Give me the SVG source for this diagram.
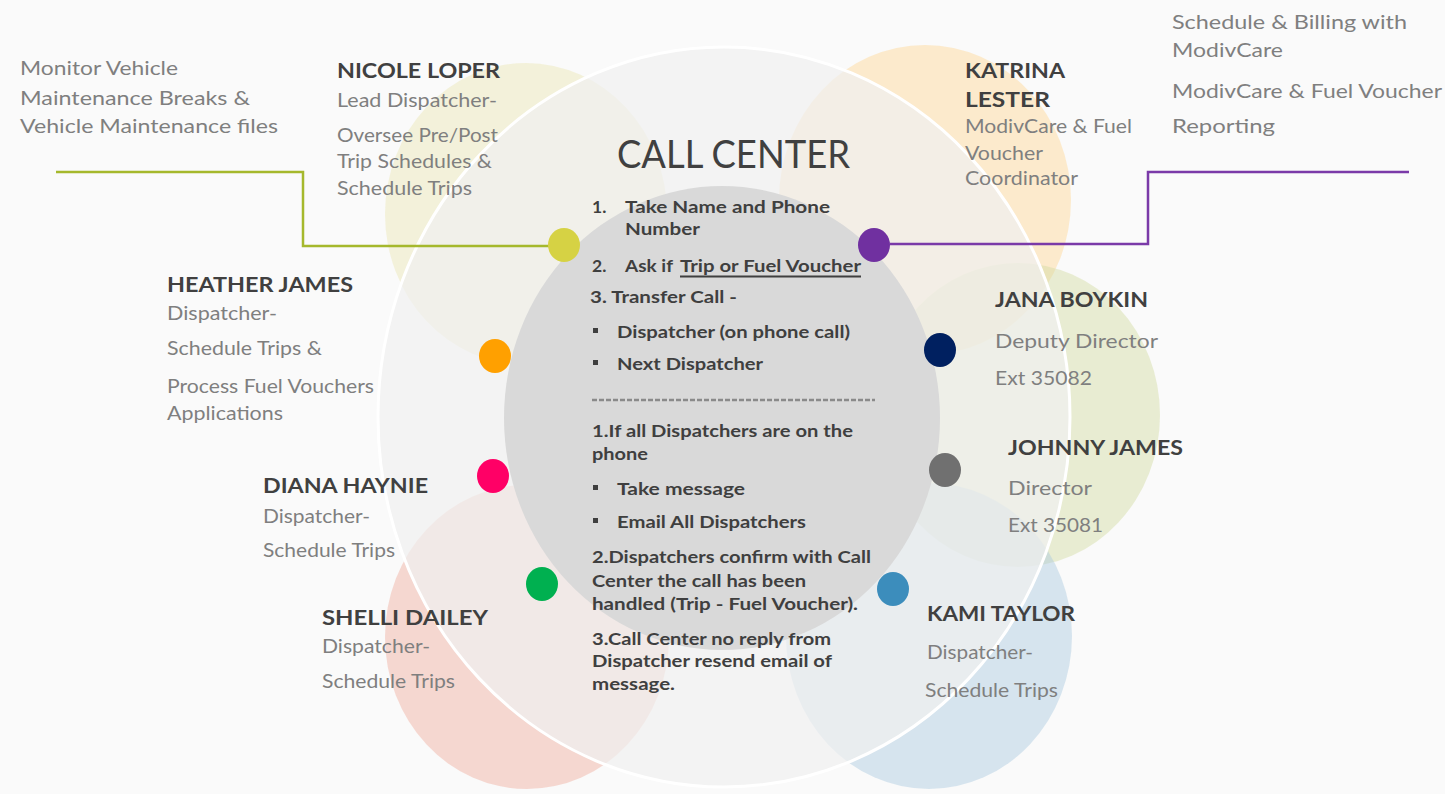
<svg xmlns="http://www.w3.org/2000/svg" width="1445" height="794" viewBox="0 0 1445 794">
  <style>
    text { font-family: Lato, "Open Sans", "Liberation Sans", sans-serif; }
    .name { font-size: 20px; font-weight: bold; fill: #404040; }
    .role { font-size: 19px; fill: #7f7f7f; }
    .note { font-size: 19px; fill: #7f7f7f; }
    .list { font-size: 17.5px; font-weight: bold; fill: #3f3f3f; }
    .title { font-size: 38px; fill: #404040; }
    .petal { fill-opacity: 0.45; }
    .dot { stroke: none; }
    .link { fill: none; stroke-width: 2.5; }
  </style>

  <rect width="1445" height="794" fill="#fafafa"/>

  <!-- translucent petals behind the main ring -->
  <g id="petals">
    <ellipse class="petal" cx="526" cy="214" rx="141" ry="151" fill="#eae6b3"/>
    <ellipse class="petal" cx="925" cy="200" rx="146" ry="155" fill="#fed694"/>
    <ellipse class="petal" cx="1018" cy="415" rx="142" ry="152" fill="#d2dba1"/>
    <ellipse class="petal" cx="929" cy="636" rx="143" ry="153" fill="#aac9df"/>
    <ellipse class="petal" cx="527" cy="637" rx="142" ry="152" fill="#efae9d"/>
  </g>

  <!-- main ring -->
  <ellipse id="ring" cx="724" cy="417" rx="346" ry="370" fill="#f0f0f0" fill-opacity="0.72" stroke="#ffffff" stroke-width="3"/>

  <!-- connectors -->
  <g id="connectors">
    <polyline class="link" stroke="#a5b82c" points="56,172 303,172 303,246 549,246"/>
    <polyline class="link" stroke="#7a3aa8" points="890,244 1148,244 1148,172 1409,172"/>
  </g>

  <!-- call center -->
  <g id="call-center">
    <ellipse cx="722" cy="418" rx="218" ry="232" fill="#d9d9d9"/>
    <text class="title" x="617" y="168" textLength="233" lengthAdjust="spacingAndGlyphs">CALL CENTER</text>
    <g class="list">
      <text x="592" y="213">1.</text>
      <text x="625" y="213" textLength="205" lengthAdjust="spacingAndGlyphs">Take Name and Phone</text>
      <text x="625" y="235" textLength="75" lengthAdjust="spacingAndGlyphs">Number</text>
      <text x="592" y="272">2.</text>
      <text x="625" y="272" textLength="48" lengthAdjust="spacingAndGlyphs">Ask if</text>
      <text x="680" y="272" textLength="181" lengthAdjust="spacingAndGlyphs">Trip or Fuel Voucher</text>
      <text x="590" y="303" textLength="147" lengthAdjust="spacingAndGlyphs">3. Transfer Call -</text>
      <text x="617" y="338" textLength="233" lengthAdjust="spacingAndGlyphs">Dispatcher (on phone call)</text>
      <text x="617" y="370" textLength="146" lengthAdjust="spacingAndGlyphs">Next Dispatcher</text>
      <text x="592" y="437" textLength="261" lengthAdjust="spacingAndGlyphs">1.If all Dispatchers are on the</text>
      <text x="592" y="460" textLength="56" lengthAdjust="spacingAndGlyphs">phone</text>
      <text x="617" y="495" textLength="128" lengthAdjust="spacingAndGlyphs">Take message</text>
      <text x="617" y="528" textLength="189" lengthAdjust="spacingAndGlyphs">Email All Dispatchers</text>
      <text x="592" y="563" textLength="279" lengthAdjust="spacingAndGlyphs">2.Dispatchers confirm with Call</text>
      <text x="592" y="587" textLength="214" lengthAdjust="spacingAndGlyphs">Center the call has been</text>
      <text x="592" y="610" textLength="266" lengthAdjust="spacingAndGlyphs">handled (Trip - Fuel Voucher).</text>
      <text x="592" y="645" textLength="239" lengthAdjust="spacingAndGlyphs">3.Call Center no reply from</text>
      <text x="592" y="667" textLength="240" lengthAdjust="spacingAndGlyphs">Dispatcher resend email of</text>
      <text x="592" y="690" textLength="83" lengthAdjust="spacingAndGlyphs">message.</text>
    </g>
    <line x1="680" y1="276.5" x2="861" y2="276.5" stroke="#3f3f3f" stroke-width="2"/>
    <g fill="#3f3f3f">
      <rect x="593" y="328" width="5" height="5"/>
      <rect x="593" y="360" width="5" height="5"/>
      <rect x="593" y="485" width="5" height="5"/>
      <rect x="593" y="518" width="5" height="5"/>
    </g>
    <line x1="592" y1="400" x2="875" y2="400" stroke="#8a8a8a" stroke-width="2.5" stroke-dasharray="5 2"/>
  </g>

  <!-- side notes -->
  <g id="note-maintenance" class="note">
    <text x="20" y="75" textLength="158" lengthAdjust="spacingAndGlyphs">Monitor Vehicle</text>
    <text x="20" y="105" textLength="230" lengthAdjust="spacingAndGlyphs">Maintenance Breaks &amp;</text>
    <text x="20" y="133" textLength="258" lengthAdjust="spacingAndGlyphs">Vehicle Maintenance files</text>
  </g>
  <g id="note-billing" class="note">
    <text x="1172" y="29" textLength="235" lengthAdjust="spacingAndGlyphs">Schedule &amp; Billing with</text>
    <text x="1172" y="57" textLength="111" lengthAdjust="spacingAndGlyphs">ModivCare</text>
    <text x="1172" y="98" textLength="270" lengthAdjust="spacingAndGlyphs">ModivCare &amp; Fuel Voucher</text>
    <text x="1172" y="133" textLength="103" lengthAdjust="spacingAndGlyphs">Reporting</text>
  </g>

  <!-- staff -->
  <g id="nicole-loper">
    <ellipse class="dot" cx="564" cy="245" rx="16" ry="17" fill="#d6d244"/>
    <text class="name" x="337" y="78" textLength="163" lengthAdjust="spacingAndGlyphs">NICOLE LOPER</text>
    <text class="role" x="337" y="107" textLength="160" lengthAdjust="spacingAndGlyphs">Lead Dispatcher-</text>
    <text class="role" x="337" y="142" textLength="161" lengthAdjust="spacingAndGlyphs">Oversee Pre/Post</text>
    <text class="role" x="337" y="168" textLength="155" lengthAdjust="spacingAndGlyphs">Trip Schedules &amp;</text>
    <text class="role" x="337" y="195" textLength="135" lengthAdjust="spacingAndGlyphs">Schedule Trips</text>
  </g>

  <g id="katrina-lester">
    <ellipse class="dot" cx="874" cy="245" rx="16" ry="17" fill="#7030a0"/>
    <text class="name" x="965" y="78" textLength="100" lengthAdjust="spacingAndGlyphs">KATRINA</text>
    <text class="name" x="965" y="107" textLength="85" lengthAdjust="spacingAndGlyphs">LESTER</text>
    <text class="role" x="965" y="133" textLength="167" lengthAdjust="spacingAndGlyphs">ModivCare &amp; Fuel</text>
    <text class="role" x="965" y="160" textLength="78" lengthAdjust="spacingAndGlyphs">Voucher</text>
    <text class="role" x="965" y="185" textLength="113" lengthAdjust="spacingAndGlyphs">Coordinator</text>
  </g>

  <g id="heather-james">
    <ellipse class="dot" cx="495" cy="356" rx="16" ry="17" fill="#ffa000"/>
    <text class="name" x="167" y="292" textLength="186" lengthAdjust="spacingAndGlyphs">HEATHER JAMES</text>
    <text class="role" x="167" y="320" textLength="110" lengthAdjust="spacingAndGlyphs">Dispatcher-</text>
    <text class="role" x="167" y="355" textLength="155" lengthAdjust="spacingAndGlyphs">Schedule Trips &amp;</text>
    <text class="role" x="167" y="393" textLength="207" lengthAdjust="spacingAndGlyphs">Process Fuel Vouchers</text>
    <text class="role" x="167" y="420" textLength="116" lengthAdjust="spacingAndGlyphs">Applications</text>
  </g>

  <g id="diana-haynie">
    <ellipse class="dot" cx="493" cy="476" rx="16" ry="17" fill="#ff0066"/>
    <text class="name" x="263" y="493" textLength="165" lengthAdjust="spacingAndGlyphs">DIANA HAYNIE</text>
    <text class="role" x="263" y="523" textLength="107" lengthAdjust="spacingAndGlyphs">Dispatcher-</text>
    <text class="role" x="263" y="557" textLength="132" lengthAdjust="spacingAndGlyphs">Schedule Trips</text>
  </g>

  <g id="shelli-dailey">
    <ellipse class="dot" cx="542" cy="584" rx="16" ry="17" fill="#00b050"/>
    <text class="name" x="322" y="625" textLength="166" lengthAdjust="spacingAndGlyphs">SHELLI DAILEY</text>
    <text class="role" x="322" y="653" textLength="108" lengthAdjust="spacingAndGlyphs">Dispatcher-</text>
    <text class="role" x="322" y="688" textLength="133" lengthAdjust="spacingAndGlyphs">Schedule Trips</text>
  </g>

  <g id="jana-boykin">
    <ellipse class="dot" cx="940" cy="350" rx="16" ry="17" fill="#002060"/>
    <text class="name" x="995" y="307" textLength="153" lengthAdjust="spacingAndGlyphs">JANA BOYKIN</text>
    <text class="role" x="995" y="348" textLength="163" lengthAdjust="spacingAndGlyphs">Deputy Director</text>
    <text class="role" x="995" y="385" textLength="97" lengthAdjust="spacingAndGlyphs">Ext 35082</text>
  </g>

  <g id="johnny-james">
    <ellipse class="dot" cx="945" cy="470" rx="16" ry="17" fill="#707070"/>
    <text class="name" x="1008" y="455" textLength="175" lengthAdjust="spacingAndGlyphs">JOHNNY JAMES</text>
    <text class="role" x="1008" y="495" textLength="84" lengthAdjust="spacingAndGlyphs">Director</text>
    <text class="role" x="1008" y="532" textLength="95" lengthAdjust="spacingAndGlyphs">Ext 35081</text>
  </g>

  <g id="kami-taylor">
    <ellipse class="dot" cx="893" cy="589" rx="16" ry="17" fill="#3c8dbc"/>
    <text class="name" x="927" y="621" textLength="148" lengthAdjust="spacingAndGlyphs">KAMI TAYLOR</text>
    <text class="role" x="927" y="659" textLength="106" lengthAdjust="spacingAndGlyphs">Dispatcher-</text>
    <text class="role" x="925" y="697" textLength="133" lengthAdjust="spacingAndGlyphs">Schedule Trips</text>
  </g>
</svg>
